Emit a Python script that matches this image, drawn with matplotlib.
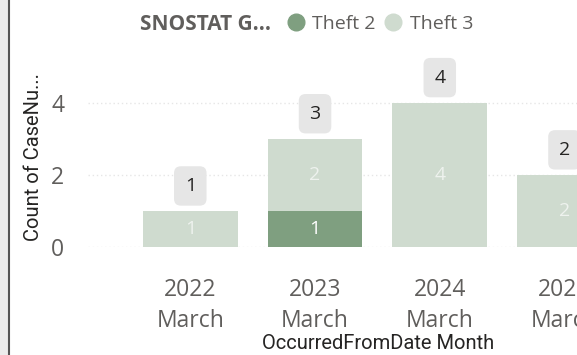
import numpy as np
import matplotlib.pyplot as plt
from matplotlib.lines import Line2D
from matplotlib.patches import Rectangle

plt.rcParams['font.family'] = ['Open Sans', 'DejaVu Sans']

months = ['2022\nMarch', '2023\nMarch', '2024\nMarch', '2025\nMarch']
theft2 = [0, 1, 0, 0]
theft3 = [1, 2, 4, 2]

c_theft2 = '#7f9f80'
c_theft3 = '#cfdbcf'
grey_txt = '#605e5c'
dark_txt = '#252423'

fig = plt.figure(figsize=(5.77, 3.55), dpi=100)
ax = fig.add_axes([0.1525, 0.304, 0.8475, 0.468])

x = np.arange(len(months))
t2 = np.array(theft2)
t3 = np.array(theft3)
total = t2 + t3
w = 0.76

ax.bar(x, t2, w, color=c_theft2, zorder=2)
ax.bar(x, t3, w, bottom=t2, color=c_theft3, zorder=2)

# segment labels inside the bars
for xi, v in zip(x, t2):
    if v > 0:
        ax.text(xi, v / 2, str(v), ha='center', va='center', color='white',
                fontsize=14, zorder=3)
for xi, v, b in zip(x, t3, t2):
    if v > 0:
        ax.text(xi, b + v / 2, str(v), ha='center', va='center', color='#eef2ee',
                fontsize=14, zorder=3)

# totals in grey boxes above each stack
for xi, v in zip(x, total):
    ax.annotate(str(v), (xi, v), xytext=(0, 18), textcoords='offset points',
                ha='center', va='center', fontsize=14, color=dark_txt, zorder=4,
                bbox=dict(boxstyle='round,pad=0.55,rounding_size=0.35',
                          fc='#e6e6e6', ec='none'))

ax.set_xlim(-0.82, 3.1)
ax.set_ylim(0, 4.6)
ax.set_yticks([0, 2, 4])
ax.set_xticks(x)
ax.set_xticklabels(months)
ax.tick_params(length=0, labelsize=16.5, colors=grey_txt)
ax.tick_params(axis='x', pad=22)
ax.tick_params(axis='y', pad=17)
for lbl in ax.get_xticklabels():
    lbl.set_linespacing(1.4)
ax.grid(axis='y', color='#e6e6e6', linestyle=(0, (1, 2)), linewidth=1, zorder=0)
for s in ax.spines.values():
    s.set_visible(False)

ax.set_xlabel('OccurredFromDate Month', fontsize=14.5, color=dark_txt,
              family='Roboto')
ax.xaxis.set_label_coords(0.593, -0.525)
ax.set_ylabel('Count of CaseNu...', fontsize=14.5, color=dark_txt,
              family='Roboto')
ax.yaxis.set_label_coords(-0.092, 0.54)

# legend across the top
fig.text(0.243, 0.932, 'SNOSTAT G...', fontsize=15, fontweight='bold',
         color=grey_txt, va='center')
handles = [Line2D([], [], marker='o', ls='none', ms=12, color=c_theft2),
           Line2D([], [], marker='o', ls='none', ms=12, color=c_theft3)]
fig.legend(handles, ['Theft 2', 'Theft 3'], loc='center left',
           bbox_to_anchor=(0.462, 0.932), ncol=2, frameon=False,
           handletextpad=0.25, columnspacing=0.3, handlelength=1.2,
           prop={'size': 14}, labelcolor=grey_txt)

# left frame edge
fig.patches.append(Rectangle((0, 0), 0.013, 1, transform=fig.transFigure,
                             fc='#ececec', ec='none'))
fig.add_artist(Line2D([0.015, 0.015], [0, 1], color='#555555', lw=1.5,
                      transform=fig.transFigure))

fig.savefig('out.png', dpi=100)
